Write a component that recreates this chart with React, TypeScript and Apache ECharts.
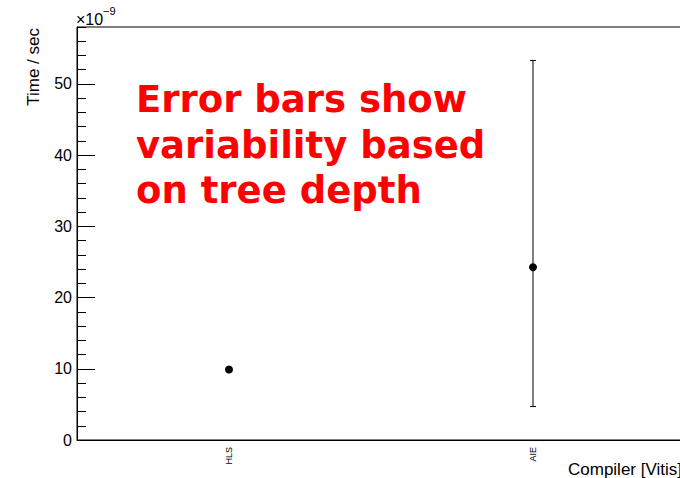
import React, { useEffect, useRef } from "react";
import * as echarts from "echarts";

const categories = ["HLS", "AIE"];
const meanTimes = [9.9, 24.25]; // ×1e-9 sec
const lowTimes = [9.9, 4.7];
const highTimes = [9.9, 53.3];
const yMin = 0;
const yMax = 58;
const yMajor = 10;
const yMinor = 2;
const noteLines = ["Error bars show", "variability based", "on tree depth"];
const yTitle = "Time / sec";
const xTitle = "Compiler [Vitis]";

export default function App() {
  const ref = useRef<HTMLDivElement>(null);
  useEffect(() => {
    document.body.style.margin = "0";
    const chart = echarts.init(ref.current!, null, { renderer: "svg" });
    const font = "'Liberation Sans', Arial, Helvetica, sans-serif";
    const option: any = {
      animation: false,
      backgroundColor: "#ffffff",
      grid: {
        left: 77,
        top: 27,
        width: 608,
        height: 413,
        show: true,
        borderColor: "#000",
        borderWidth: 1,
        containLabel: false,
      },
      xAxis: {
        type: "category",
        data: categories,
        boundaryGap: true,
        axisLine: { lineStyle: { color: "#000", width: 1 } },
        axisTick: { show: false },
        axisLabel: {
          rotate: 90,
          fontSize: 9,
          fontFamily: font,
          color: "#000",
          margin: 7,
        },
        splitLine: { show: false },
      },
      yAxis: [
        {
          type: "value",
          min: yMin,
          max: yMax,
          interval: yMajor,
          axisLine: { show: true, lineStyle: { color: "#000", width: 1 } },
          axisTick: { show: true, inside: true, length: 18, lineStyle: { color: "#000" } },
          axisLabel: {
            fontSize: 16,
            fontFamily: font,
            color: "#000",
            margin: 5,
            showMaxLabel: false,
          },
          splitLine: { show: false },
        },
        {
          type: "value",
          position: "left",
          min: yMin,
          max: yMax,
          interval: yMinor,
          axisLine: { show: false },
          axisTick: { show: true, inside: true, length: 9, lineStyle: { color: "#000" } },
          axisLabel: { show: false },
          splitLine: { show: false },
        },
      ],
      series: [
        {
          type: "custom",
          yAxisIndex: 0,
          data: categories.map((_, i) => [i, lowTimes[i], highTimes[i]]),
          renderItem: (params: any, api: any) => {
            const x = api.value(0);
            const lo = api.coord([x, api.value(1)]);
            const hi = api.coord([x, api.value(2)]);
            if (Math.abs(lo[1] - hi[1]) < 0.5) return { type: "group", children: [] };
            const st = { stroke: "#000", lineWidth: 1 };
            return {
              type: "group",
              children: [
                { type: "line", shape: { x1: lo[0], y1: lo[1], x2: hi[0], y2: hi[1] }, style: st },
                { type: "line", shape: { x1: lo[0] - 3, y1: lo[1], x2: lo[0] + 3, y2: lo[1] }, style: st },
                { type: "line", shape: { x1: hi[0] - 3, y1: hi[1], x2: hi[0] + 3, y2: hi[1] }, style: st },
              ],
            };
          },
          z: 2,
        },
        {
          type: "scatter",
          yAxisIndex: 0,
          data: meanTimes,
          symbol: "circle",
          symbolSize: 8,
          itemStyle: { color: "#000", opacity: 1 },
          z: 3,
        },
      ],
      graphic: [
        {
          type: "text",
          x: 33,
          y: 28,
          rotation: Math.PI / 2,
          style: {
            text: yTitle,
            fontSize: 17,
            fontFamily: font,
            fill: "#000",
            align: "right",
            verticalAlign: "middle",
          },
        },
        {
          type: "text",
          x: 568,
          y: 469,
          style: {
            text: xTitle,
            fontSize: 17,
            fontFamily: font,
            fill: "#000",
            align: "left",
            verticalAlign: "middle",
          },
        },
        {
          type: "text",
          x: 76,
          y: 19,
          style: { text: "×10", fontSize: 16, fontFamily: font, fill: "#000", align: "left", verticalAlign: "middle" },
        },
        {
          type: "text",
          x: 103,
          y: 11,
          style: { text: "−9", fontSize: 11, fontFamily: font, fill: "#000", align: "left", verticalAlign: "middle" },
        },
        ...noteLines.map((t, i) => ({
          type: "text",
          x: 136,
          y: 99.5 + i * 45.5,
          style: {
            text: t,
            fontSize: 37,
            fontWeight: "bold",
            fontFamily: "'DejaVu Sans', sans-serif",
            fill: "#ff0000",
            align: "left",
            verticalAlign: "middle",
          },
        })),
      ],
    };
    chart.setOption(option);
    return () => chart.dispose();
  }, []);
  return (
    <div style={{ width: 680, height: 478, overflow: "hidden", position: "relative" }}>
      <div ref={ref} style={{ width: 700, height: 478 }} />
    </div>
  );
}
